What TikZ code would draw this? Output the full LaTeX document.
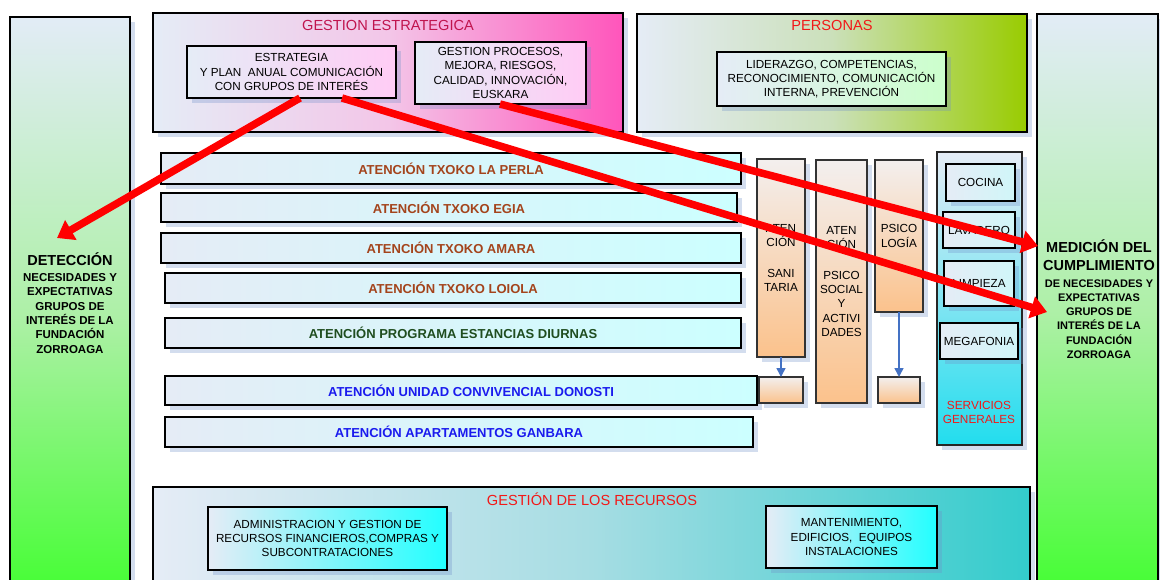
\documentclass[tikz,border=0pt]{standalone}
\usepackage{fontspec}
\setmainfont{Liberation Sans}
\usetikzlibrary{shadows,arrows.meta}
\definecolor{shadowc}{HTML}{6F8FC8}
\definecolor{sideTop}{HTML}{E2ECF6}
\definecolor{sideMid}{HTML}{ADF0A6}
\definecolor{sideBot}{HTML}{3CFF2A}
\definecolor{paleL}{HTML}{E5ECF6}
\definecolor{geMid}{HTML}{F3C6E8}
\definecolor{geR}{HTML}{FF55BB}
\definecolor{geInR}{HTML}{FFCCF5}
\definecolor{peMid}{HTML}{CBE0BA}
\definecolor{peR}{HTML}{99CC00}
\definecolor{peInR}{HTML}{CCFFCC}
\definecolor{rowR}{HTML}{CCFFFF}
\definecolor{orTop}{HTML}{F3EFEE}
\definecolor{orBot}{HTML}{FBC28C}
\definecolor{sgBot}{HTML}{22DDEE}
\definecolor{sgInR}{HTML}{D0F6F8}
\definecolor{grMid}{HTML}{A6DDE3}
\definecolor{grR}{HTML}{33CCCC}
\definecolor{grInR}{HTML}{22FFFF}
\definecolor{crimson}{HTML}{C0144E}
\definecolor{titlered}{HTML}{F21818}
\definecolor{brownt}{HTML}{A4441C}
\definecolor{greent}{HTML}{1F4D1F}
\definecolor{bluet}{HTML}{1A1AEE}
\definecolor{arrowblue}{HTML}{4472C4}
\begin{document}
\begin{tikzpicture}[x=1pt,y=-1pt,
  base/.style={anchor=north west, inner sep=0pt, outer sep=0pt,
    drop shadow={shadow xshift=5pt, shadow yshift=-5pt, fill=shadowc, opacity=0.3}},
  bigbox/.style={base, draw=black, line width=2.4pt},
  sidecol/.style={bigbox, top color=sideTop, bottom color=sideBot, middle color=sideMid},
  gebox/.style={bigbox, left color=paleL, right color=geR, middle color=geMid},
  pebox/.style={bigbox, left color=paleL, right color=peR, middle color=peMid},
  grbox/.style={bigbox, left color=paleL, right color=grR, middle color=grMid},
  inbox/.style={base, draw=black, line width=1.5pt, align=center,
    font=\fontsize{11.7}{14.2}\selectfont},
  geinner/.style={inbox, left color=paleL, right color=geInR},
  peinner/.style={inbox, left color=paleL, right color=peInR},
  grinner/.style={inbox, left color=paleL, right color=grInR},
  rowbox/.style={base, draw=black, line width=2.8pt, left color=paleL, right color=rowR,
    font=\bfseries\fontsize{13}{15}\selectfont},
  orcol/.style={base, draw=black!80, line width=1.2pt, top color=orTop, bottom color=orBot,
    align=center, font=\fontsize{11.7}{14.3}\selectfont},
  sgcol/.style={base, draw=black!85, line width=1.6pt, top color=paleL, bottom color=sgBot},
  sginner/.style={inbox, left color=paleL, right color=sgInR},
  sidetext/.style={align=center, inner sep=0pt, font=\bfseries\fontsize{11.5}{14.3}\selectfont},
  titletext/.style={inner sep=0pt, font=\fontsize{14.6}{17}\selectfont},
  redarr/.style={draw=red, line width=7.5pt, -{Triangle[length=16pt,width=22pt]}},
  bluearr/.style={draw=arrowblue, line width=1.5pt, -{Triangle[length=9pt,width=9pt]}}
]
\useasboundingbox (0,0) rectangle (1160,579);
\fill[white] (0,0) rectangle (1160,579);

% side columns
\node[sidecol, minimum width=120pt, minimum height=600pt] (L) at (10,17) {};
\node[sidecol, minimum width=121pt, minimum height=600pt] (R) at (1037,14) {};
\node[sidetext] (Ltxt) at (70,303) {{\fontsize{14.5}{16}\selectfont DETECCIÓN}\\[1.7pt]NECESIDADES Y\\EXPECTATIVAS\\GRUPOS DE\\INTERÉS DE LA\\FUNDACIÓN\\ZORROAGA};
\node[sidetext, font=\bfseries\fontsize{11}{14.2}\selectfont] (Rtxt) at (1099,299) {{\fontsize{14.5}{16}\selectfont MEDICIÓN DEL}\\[3.8pt]{\fontsize{14.5}{16}\selectfont CUMPLIMIENTO}\\[2.8pt]DE NECESIDADES Y\\EXPECTATIVAS\\GRUPOS DE\\INTERÉS DE LA\\FUNDACIÓN\\ZORROAGA};

% gestion estrategica
\node[gebox, minimum width=470pt, minimum height=119pt] (GE) at (153,13) {};
\node[titletext, text=crimson] (GEt) at (388,25) {GESTION ESTRATEGICA};
\node[geinner, minimum width=209pt, minimum height=52pt] (E1) at (187,46) {ESTRATEGIA\\Y PLAN\ \ ANUAL COMUNICACIÓN\\CON GRUPOS DE INTERÉS};
\node[geinner, minimum width=171pt, minimum height=62pt] (E2) at (415,42) {GESTION PROCESOS,\\MEJORA, RIESGOS,\\CALIDAD, INNOVACIÓN,\\EUSKARA};

% personas
\node[pebox, minimum width=390pt, minimum height=118pt] (P) at (637,14) {};
\node[titletext, text=titlered] (Pt) at (832,25) {PERSONAS};
\node[peinner, minimum width=229pt, minimum height=54pt] (P1) at (717,52) {LIDERAZGO, COMPETENCIAS,\\RECONOCIMIENTO, COMUNICACIÓN\\INTERNA, PREVENCIÓN};

% rows
\node[rowbox, minimum width=580pt, minimum height=31pt, text=brownt] (r1) at (161,153) {ATENCIÓN TXOKO LA PERLA};
\node[rowbox, minimum width=576pt, minimum height=29pt, text=brownt] (r2) at (161,193) {ATENCIÓN TXOKO EGIA};
\node[rowbox, minimum width=580pt, minimum height=30pt, text=brownt] (r3) at (161,233) {ATENCIÓN TXOKO AMARA};
\node[rowbox, minimum width=576pt, minimum height=30pt, text=brownt] (r4) at (165,273) {ATENCIÓN TXOKO LOIOLA};
\node[rowbox, minimum width=576pt, minimum height=30pt, text=greent] (r5) at (165,318) {ATENCIÓN PROGRAMA ESTANCIAS DIURNAS};
\node[rowbox, minimum width=592pt, minimum height=29pt, text=bluet] (r6) at (165,376) {\hspace*{20pt}ATENCIÓN UNIDAD CONVIVENCIAL DONOSTI};
\node[rowbox, minimum width=588pt, minimum height=30pt, text=bluet] (r7) at (165,417) {ATENCIÓN APARTAMENTOS GANBARA};

% orange columns
\node[orcol, minimum width=48pt, minimum height=198pt] (c1) at (757,159) {ATEN\\CIÓN\\[16pt]SANI\\TARIA};
\node[orcol, minimum width=44pt, minimum height=26pt] (s1) at (759,377) {};
\node[orcol, minimum width=51pt, minimum height=243pt] (c2) at (816,160) {ATEN\\CIÓN\\[16pt]PSICO\\SOCIAL\\Y\\ACTIVI\\DADES};
\node[orcol, minimum width=48pt, minimum height=152pt] (c3) at (875,160) {PSICO\\LOGÍA};
\node[orcol, minimum width=42pt, minimum height=26pt] (s3) at (878,377) {};
\draw[bluearr] (c1.south) -- (s1.north);
\draw[bluearr] (c3.south) -- (s3.north);

% servicios generales
\node[sgcol, minimum width=85pt, minimum height=293pt] (SG) at (937,152) {};
\node[sginner, minimum width=69pt, minimum height=37pt] (k1) at (946,164) {COCINA};
\node[sginner, minimum width=72pt, minimum height=36pt] (k2) at (943,212) {LAVADERO};
\node[sginner, minimum width=70pt, minimum height=45pt] (k3) at (944,261) {LIMPIEZA};
\node[sginner, minimum width=78pt, minimum height=36pt] (k4) at (940,323) {MEGAFONIA};
\node[align=center, inner sep=0pt, text=titlered, font=\fontsize{11.8}{14}\selectfont] (SGt) at (979,412) {SERVICIOS\\GENERALES};

% gestion de los recursos
\node[grbox, minimum width=877pt, minimum height=120pt] (GR) at (153,487) {};
\node[titletext, text=titlered] (GRt) at (592,499) {GESTIÓN DE LOS RECURSOS};
\node[grinner, minimum width=239pt, minimum height=63pt] (G1) at (208,507) {ADMINISTRACION Y GESTION DE\\RECURSOS FINANCIEROS,COMPRAS Y\\SUBCONTRATACIONES};
\node[grinner, minimum width=171pt, minimum height=62pt] (G2) at (766,506) {MANTENIMIENTO,\\EDIFICIOS,\ \ EQUIPOS\\INSTALACIONES};

% red arrows
\coordinate (tA) at (57,238);
\coordinate (tB) at (1047,312);
\coordinate (tC) at (1038,246);
\draw[redarr] ([xshift=8.5pt]E1.south) -- (tA);
\draw[redarr] ([xshift=50.5pt]E1.south) -- (tB);
\draw[redarr] ([xshift=-0.5pt]E2.south) -- (tC);
\end{tikzpicture}
\end{document}
